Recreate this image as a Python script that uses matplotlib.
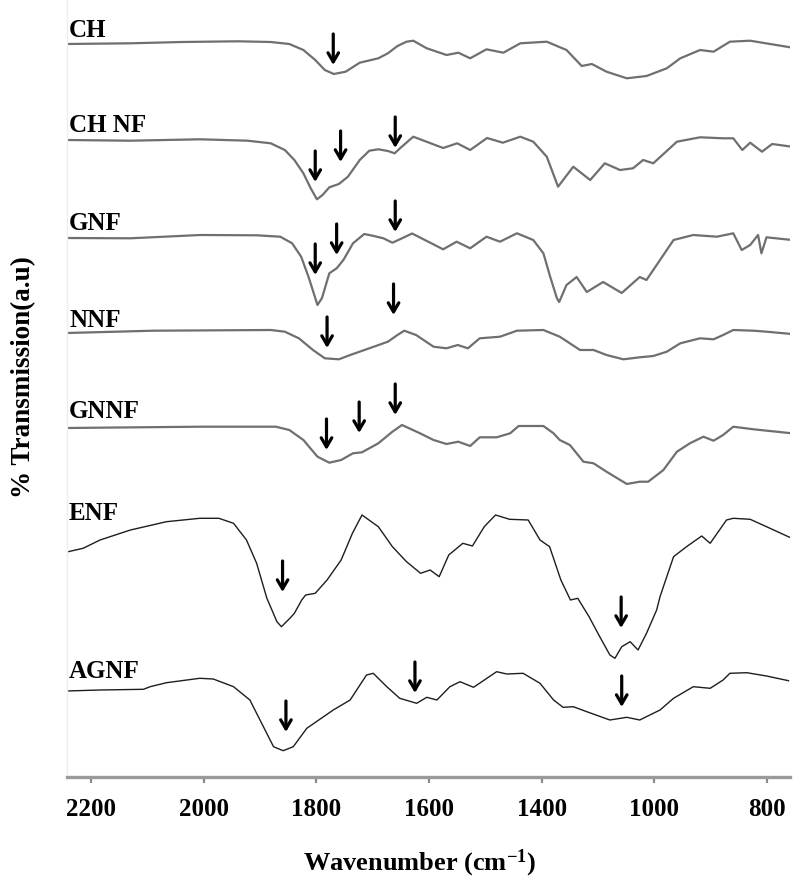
import matplotlib
matplotlib.use('Agg')
import matplotlib.pyplot as plt
import numpy as np

plt.rcParams['font.family'] = ['Liberation Serif', 'DejaVu Serif']
plt.rcParams['font.weight'] = 'bold'
plt.rcParams['mathtext.fontset'] = 'custom'
plt.rcParams['mathtext.rm'] = 'Liberation Serif:bold'
plt.rcParams['mathtext.default'] = 'rm'

# sample names, top to bottom
names = ['CH', 'CH NF', 'GNF', 'NNF', 'GNNF', 'ENF', 'AGNF']
# vertical offset of each spectrum (a.u.)
offsets = [733, 637, 539, 444, 349, 225, 86]

# spectra: wavenumber positions and transmission relative to each trace start (a.u.)
ch_x = [2242, 2130, 2039, 1939, 1881, 1848, 1823, 1802, 1785, 1769, 1748, 1723, 1690, 1673,
        1656, 1640, 1628, 1604, 1569, 1548, 1527, 1498, 1468, 1438, 1391, 1356, 1329, 1311,
        1285, 1249, 1214, 1178, 1154, 1119, 1095, 1066, 1030, 959]
ch_y = [0, 0.7, 2, 2.7, 2, 0, -6, -16, -26, -30, -27.7, -18.7, -14.3, -9.3,
        -2, 2.3, 3.3, -4.3, -11, -8.7, -14.3, -5.3, -8.7, 0.7, 2.3, -6, -22, -20,
        -27.7, -34.3, -32, -24.3, -14.3, -6, -7.7, 2.3, 3.3, -3.3]

chnf_x = [2242, 2130, 2006, 1922, 1881, 1856, 1839, 1823, 1810, 1799, 1789, 1777, 1760, 1744,
          1723, 1706, 1690, 1673, 1661, 1651, 1628, 1575, 1550, 1527, 1497, 1469, 1438, 1415,
          1391, 1371, 1344, 1314, 1288, 1261, 1238, 1220, 1202, 1160, 1119, 1078, 1060, 1044,
          1030, 1009, 991, 956]
chnf_y = [0, -0.7, 0.7, -0.7, -3.3, -10, -20, -33.3, -48.3, -59.3, -55, -47.3, -44, -36.7,
          -20, -10.7, -9.3, -11, -13.3, -8, 3.3, -8, -3.3, -10, 2, -2.7, 3.3, -1.7,
          -16.7, -46.7, -26.7, -40, -23.3, -30, -28.3, -20, -23.3, -1.7, 2.7, 1.7, 1.7, -10,
          -2.7, -11.7, -4, -6.7]

gnf_x = [2242, 2130, 2006, 1906, 1864, 1843, 1827, 1814, 1798, 1790, 1777, 1764, 1752, 1735,
         1715, 1698, 1681, 1665, 1648, 1630, 1575, 1551, 1527, 1498, 1474, 1444, 1415, 1397,
         1385, 1373, 1369, 1356, 1338, 1320, 1291, 1258, 1226, 1214, 1166, 1131, 1089, 1060,
         1045, 1030, 1016, 1010, 1001, 956]
gnf_y = [0, -0.3, 3, 2.7, 1.3, -5.3, -18.7, -38.7, -67, -60, -35.3, -30.3, -22, -5.3,
         4, 2, -0.3, -4.7, -0.3, 4.5, -11.3, -3.7, -10.3, 1.3, -3.7, 4.7, -2, -15.3,
         -38.7, -60.3, -64, -47, -39, -54, -44, -55, -39, -42, -2, 3, 1.3, 4.7,
         -12, -7, 3, -15.3, 0.7, -2]

nnf_x = [2243, 2089, 1881, 1856, 1831, 1806, 1785, 1760, 1740, 1706, 1673, 1656, 1644, 1623,
         1592, 1569, 1549, 1531, 1510, 1474, 1444, 1397, 1368, 1332, 1308, 1285, 1255, 1226,
         1202, 1178, 1154, 1119, 1095, 1078, 1060, 1024, 1001, 956]
nnf_y = [0, 2.3, 3, 1.3, -5.3, -17, -25.3, -26.3, -22, -15.3, -8.7, -2, 2.3, -2,
         -13.7, -15.3, -12, -15.3, -5.3, -3.7, 2.3, 3, -3.7, -17, -17, -22, -26.3, -24.3,
         -23, -18.7, -10.3, -5.3, -6.3, -2, 3, 2.3, 1.3, -1]

gnnf_x = [2243, 2006, 1872, 1848, 1823, 1798, 1777, 1756, 1735, 1719, 1690, 1665, 1648, 1616,
          1592, 1569, 1548, 1527, 1510, 1480, 1456, 1441, 1397, 1379, 1368, 1350, 1326, 1308,
          1285, 1249, 1226, 1211, 1184, 1160, 1137, 1113, 1095, 1078, 1060, 1024, 956]
gnnf_y = [0, 1.3, 1.3, -2, -12, -28.7, -34.7, -32, -25.3, -24.3, -15.3, -3.7, 3, -5.3,
          -12, -16, -13.7, -18, -9.3, -9.3, -5.3, 2, 2, -5.3, -12, -17, -33.7, -35.3,
          -43.7, -56, -53.7, -53.7, -42, -23.7, -15.3, -8.7, -12.7, -7, 1.3, -1.3, -5.3]

enf_x = [2243, 2214, 2184, 2130, 2066, 2007, 1973, 1947, 1924, 1906, 1888, 1870, 1862, 1847,
         1839, 1826, 1819, 1802, 1781, 1756, 1736, 1719, 1690, 1665, 1640, 1615, 1598, 1582,
         1565, 1540, 1523, 1502, 1482, 1457, 1424, 1403, 1386, 1366, 1349, 1336, 1316, 1297,
         1279, 1270, 1258, 1243, 1229, 1214, 1196, 1190, 1166, 1143, 1116, 1101, 1072, 1060,
         1030, 1001, 956]
enf_y = [0, 3.7, 12, 22, 30.3, 33.7, 33.7, 28.7, 12, -11.3, -46, -69.7, -74.7, -66.3,
         -61.3, -48, -43, -41.3, -28, -8, 18.7, 37, 25.3, 5.3, -9.7, -21.3, -18, -24.7,
         -3, 8.7, 6, 25.3, 37, 32.7, 32, 12, 5.3, -28, -48, -46.3, -64.7, -84.7,
         -103, -106.3, -94.7, -89.7, -98, -81.3, -58, -44.7, -4.7, 5.3, 16, 8.7, 32, 33.7,
         32.7, 25.3, 13.7]

agnf_x = [2243, 2184, 2107, 2095, 2066, 2007, 1983, 1947, 1918, 1894, 1876, 1859, 1841, 1817,
          1770, 1740, 1711, 1699, 1675, 1652, 1622, 1604, 1586, 1563, 1545, 1521, 1480, 1462,
          1433, 1403, 1379, 1362, 1344, 1320, 1279, 1249, 1226, 1190, 1166, 1131, 1101, 1078,
          1066, 1036, 1001, 962]
agnf_y = [0, 1, 1.7, 4.3, 8.3, 12.7, 12, 4.3, -9, -35.7, -55.7, -59.7, -55.7, -37.3,
          -19, -9, 16, 17.7, 4.3, -7.3, -12.3, -6.3, -9, 4.3, 9.3, 3.7, 19.3, 17,
          17.7, 7.7, -9, -16.3, -15.7, -20.7, -29, -26.3, -29, -19, -7.3, 4.3, 2.7, 11,
          17.7, 18.3, 15, 10.3]

spectra_x = [ch_x, chnf_x, gnf_x, nnf_x, gnnf_x, enf_x, agnf_x]
spectra_y = [ch_y, chnf_y, gnf_y, nnf_y, gnnf_y, enf_y, agnf_y]

# marked bands: wavenumber and height of arrow tip (a.u.)
arrow_x = [1770, 1802, 1757, 1660, 1802, 1764, 1660, 1781, 1663,
           1782, 1724, 1660, 1860, 1259, 1854, 1625, 1258]
arrow_tip = [712, 595, 615, 629, 502, 522, 545, 429, 462,
             327, 344, 362, 185, 149, 45, 84, 70]

# x ticks (the printed axis skips 1200, labels kept as printed)
tick_pos = [2200, 2000, 1800, 1600, 1400, 1200, 1000]
tick_labels = ['2200', '2000', '1800', '1600', '1400', '1000', '800']

fig = plt.figure(figsize=(7.93, 8.77), dpi=100)
fig.patch.set_facecolor('white')
ax = fig.add_axes([67/793, 100/877, 723/793, 777/877])

# sample label baselines (a.u.)
label_y = [740, 645, 547, 450, 359, 257, 99]

for i, name in enumerate(names):
    xs = np.array(spectra_x[i])
    ys = np.array(spectra_y[i]) + offsets[i]
    if i < 5:
        ax.plot(xs, ys, color='#6f6f6f', lw=1.6, solid_joinstyle='round')
    else:
        ax.plot(xs, ys, color='#1e1e1e', lw=1.0, solid_joinstyle='round')
    ax.text(2239, label_y[i], name, fontsize=18, fontweight='bold',
            ha='left', va='baseline', color='black')

for xa, ya in zip(arrow_x, arrow_tip):
    ax.annotate('', xy=(xa, ya), xytext=(xa, ya + 31),
                arrowprops=dict(arrowstyle='->,head_length=0.65,head_width=0.38',
                                lw=2.3, color='black', shrinkA=0, shrinkB=0))

ax.set_xlim(2242.6, 959.3)
ax.set_ylim(0, 777)

ax.set_xticks(tick_pos)
ax.set_xticklabels(tick_labels, fontsize=18, fontweight='bold')
ax.set_yticks([])
ax.tick_params(axis='x', direction='out', length=4, width=1.6, color='#8a8a8a', pad=11)

for s in ['top', 'right']:
    ax.spines[s].set_visible(False)
ax.spines['left'].set_color('#eeeeee')
ax.spines['left'].set_linewidth(1)
ax.spines['bottom'].set_color('#9a9a9a')
ax.spines['bottom'].set_linewidth(2.4)

fig.text(24/793, 1 - 377/877, '% Transmission(a.u)', rotation=90, fontsize=19.5,
         fontweight='bold', ha='center', va='center')
fig.text(420/793, 1 - 870/877, 'Wavenumber (cm$^{-1}$)', fontsize=19,
         fontweight='bold', ha='center', va='baseline')

fig.savefig('out.png', dpi=100)
